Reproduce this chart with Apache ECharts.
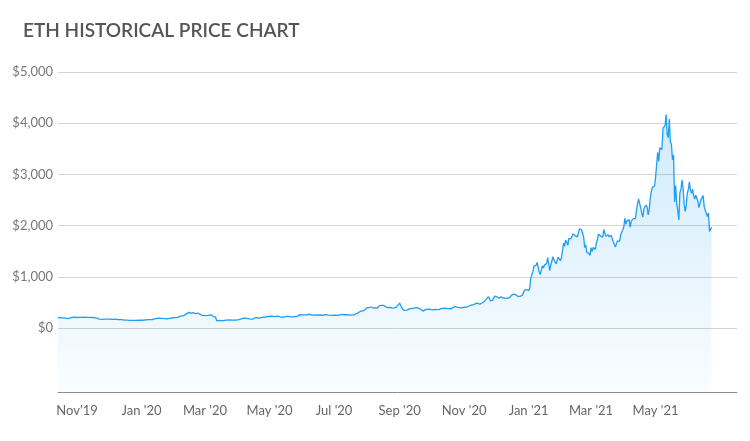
<!DOCTYPE html>
<html><head><meta charset="utf-8">
<script src="https://cdn.jsdelivr.net/npm/echarts@6/dist/echarts.min.js"></script>
<style>html,body{margin:0;padding:0;background:#fff}#c{width:750px;height:441px}</style>
</head><body><div id="c"></div>
<script>
const chartTitle = 'ETH HISTORICAL PRICE CHART';

const dates2019_2020 = [
'2019-10-14','2019-10-17','2019-10-20','2019-10-23','2019-10-26','2019-10-29',
'2019-11-01','2019-11-04','2019-11-07','2019-11-10','2019-11-13','2019-11-16','2019-11-19','2019-11-22','2019-11-25','2019-11-28',
'2019-12-01','2019-12-04','2019-12-07','2019-12-10','2019-12-13','2019-12-16','2019-12-18','2019-12-21','2019-12-24','2019-12-27','2019-12-30',
'2020-01-02','2020-01-05','2020-01-08','2020-01-11','2020-01-14','2020-01-17','2020-01-20','2020-01-23','2020-01-26','2020-01-29',
'2020-02-01','2020-02-04','2020-02-07','2020-02-10','2020-02-13','2020-02-15','2020-02-17','2020-02-19','2020-02-21','2020-02-23','2020-02-25','2020-02-27',
'2020-03-01','2020-03-04','2020-03-07','2020-03-09','2020-03-11','2020-03-12','2020-03-15','2020-03-18','2020-03-21','2020-03-24','2020-03-27','2020-03-30',
'2020-04-02','2020-04-06','2020-04-09','2020-04-12','2020-04-15','2020-04-18','2020-04-21','2020-04-24','2020-04-27','2020-04-30',
'2020-05-03','2020-05-06','2020-05-09','2020-05-12','2020-05-15','2020-05-18','2020-05-21','2020-05-24','2020-05-27','2020-05-30',
'2020-06-02','2020-06-05','2020-06-08','2020-06-11','2020-06-14','2020-06-17','2020-06-20','2020-06-23','2020-06-26','2020-06-29',
'2020-07-02','2020-07-05','2020-07-08','2020-07-11','2020-07-14','2020-07-17','2020-07-20','2020-07-22','2020-07-24','2020-07-26','2020-07-28','2020-07-30',
'2020-08-01','2020-08-03','2020-08-05','2020-08-07','2020-08-09','2020-08-11','2020-08-13','2020-08-15','2020-08-17','2020-08-19','2020-08-21','2020-08-23','2020-08-25','2020-08-27','2020-08-29',
'2020-09-01','2020-09-02','2020-09-03','2020-09-05','2020-09-08','2020-09-11','2020-09-14','2020-09-17','2020-09-20','2020-09-23','2020-09-26','2020-09-29',
'2020-10-02','2020-10-05','2020-10-08','2020-10-11','2020-10-14','2020-10-17','2020-10-20','2020-10-23','2020-10-26','2020-10-29',
'2020-11-01','2020-11-04','2020-11-07','2020-11-10','2020-11-13','2020-11-16','2020-11-18','2020-11-20','2020-11-22','2020-11-24','2020-11-26','2020-11-28','2020-11-30',
'2020-12-02','2020-12-04','2020-12-06','2020-12-08','2020-12-10','2020-12-12','2020-12-14','2020-12-16','2020-12-18','2020-12-20','2020-12-22','2020-12-24','2020-12-26','2020-12-28','2020-12-30'
];
const prices2019_2020 = [
205,198,196,185,200,212,
205,207,210,209,207,205,196,172,168,172,
172,168,171,166,165,155,153,150,150,149,153,
151,157,162,164,185,190,187,182,181,195,
203,208,232,242,285,304,286,302,279,293,270,250,
240,245,258,222,215,140,148,142,154,157,152,153,
162,190,190,178,174,205,191,207,215,225,
230,224,231,210,214,233,218,220,228,262,
256,259,265,250,255,254,249,262,250,248,
249,247,265,259,259,253,255,282,296,327,333,348,
398,396,410,390,400,390,438,442,440,416,396,402,390,392,408,
487,450,395,345,348,378,386,398,380,331,364,369,
355,362,360,384,389,377,376,421,402,395,
405,411,444,458,484,467,488,519,564,612,527,546,622,
606,580,609,583,583,577,593,644,661,645,618,619,640,735,752
];

// one value per consecutive day starting at this date
const daily2021Start = '2021-01-01';
const prices2021Daily = [
730,775,975,1040,1100,1208,1225,1224,1281,1262,1090,1043,1130,1218,1171,1233,1230,1257,1377,1382,1121,1236,1230,1391,1324,1357,1253,1331,1382,1376,1314,
1369,1515,1660,1594,1719,1677,1614,1746,1768,1744,1783,1843,1814,1804,1779,1781,1848,1937,1960,1919,1935,1781,1570,1626,1475,1446,1459,1417,
1570,1492,1575,1541,1533,1654,1723,1834,1868,1799,1826,1772,1924,1854,1792,1806,1823,1782,1817,1812,1787,1684,1674,1581,1588,1702,1717,1691,1819,1846,1919,
1977,2143,2028,2093,2108,2118,1971,2088,2072,2135,2157,2139,2299,2435,2519,2431,2344,2237,2166,2330,2364,2403,2363,2211,2317,2534,2662,2747,2757,2773,
2945,2952,3431,3253,3522,3490,3484,3902,3928,3952,4168,3785,3715,4079,3638,3588,3283,3380,2460,2784,2431,2300,2109,2643,2706,2888,2736,2419,2279,2390,2633,
2707,2856,2688,2630,2715,2590,2517,2593,2611,2474,2353,2372,2508,2537,2589,2366,2373,2231,2178,2245,1886,1880,1969
];

const xRange = ['2019-10-14', '2021-07-17'];
const xTickDates = ['2019-11-01','2020-01-01','2020-03-01','2020-05-01','2020-07-01','2020-09-01','2020-11-01','2021-01-01','2021-03-01','2021-05-01'];
const xTickLabels = ["Nov'19","Jan '20","Mar '20","May '20","Jul '20","Sep '20","Nov '20","Jan '21","Mar '21","May '21"];
const yTickValues = [0, 1000, 2000, 3000, 4000, 5000];
const yRange = [-1250, 5000];

function ts(s){ const p = s.split('-').map(Number); return Date.UTC(p[0], p[1]-1, p[2]); }
const seriesData = dates2019_2020.map((d, i) => [ts(d), prices2019_2020[i]]);
const t0 = ts(daily2021Start);
prices2021Daily.forEach((v, i) => seriesData.push([t0 + i * 86400000, v]));
const labelMap = {};
xTickDates.forEach((d, i) => { labelMap[ts(d)] = xTickLabels[i]; });

const FONT = 'Lato';
const chart = echarts.init(document.getElementById('c'), null, {renderer: 'canvas'});
chart.setOption({
  animation: false,
  backgroundColor: '#ffffff',
  title: {
    text: chartTitle, left: 23, top: 21, padding: 0,
    textStyle: {color: '#555555', fontSize: 19, fontWeight: 600, fontFamily: FONT}
  },
  grid: [
    {left: 58, right: 13, top: 72, bottom: 49},
    {left: 58, right: 13, top: 72, bottom: 113}
  ],
  xAxis: [
    {
      type: 'value', gridIndex: 0, min: ts(xRange[0]), max: ts(xRange[1]),
      axisLine: {show: true, onZero: false, lineStyle: {color: '#8c8c8c', width: 1}},
      axisTick: {show: false},
      splitLine: {show: false},
      axisLabel: {
        customValues: xTickDates.map(ts),
        formatter: v => labelMap[v] || '',
        color: '#666666', fontSize: 13, margin: 12, fontFamily: FONT
      }
    },
    {type: 'value', gridIndex: 1, min: ts(xRange[0]), max: ts(xRange[1]), show: false}
  ],
  yAxis: [
    {type: 'value', gridIndex: 0, min: yRange[0], max: yRange[1], show: false},
    {
      type: 'value', gridIndex: 1, min: yTickValues[0], max: yTickValues[yTickValues.length-1], interval: 1000,
      axisLine: {show: false}, axisTick: {show: false},
      splitLine: {show: true, lineStyle: {color: '#d4d4d4', width: 1}},
      axisLabel: {
        formatter: v => '$' + v.toLocaleString('en-US'),
        color: '#777777', fontSize: 13, margin: 5, fontFamily: FONT
      }
    }
  ],
  series: [{
    type: 'line', xAxisIndex: 0, yAxisIndex: 0,
    data: seriesData,
    showSymbol: false, symbol: 'none',
    lineStyle: {color: '#1e9ff2', width: 1.3},
    areaStyle: {
      origin: 'start',
      color: new echarts.graphic.LinearGradient(0, 0, 0, 1, [
        {offset: 0, color: 'rgba(30,159,242,0.30)'},
        {offset: 1, color: 'rgba(30,159,242,0.03)'}
      ])
    }
  }]
});
</script>
</body></html>
